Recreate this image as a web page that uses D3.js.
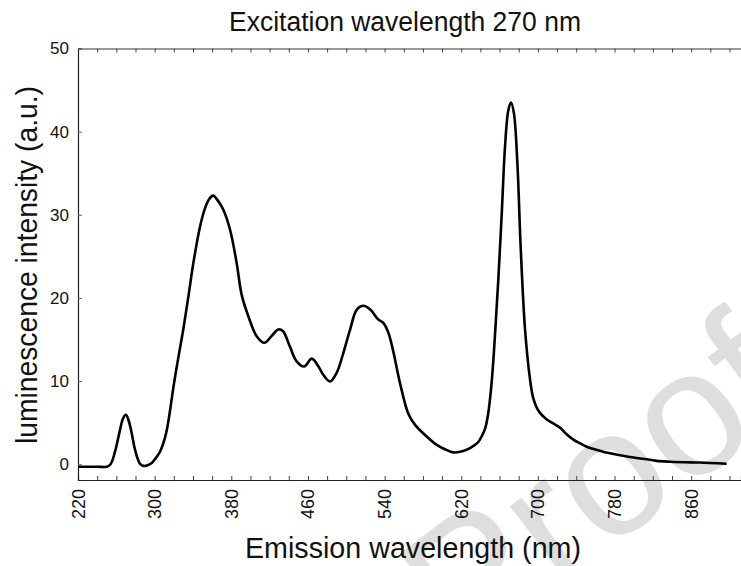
<!DOCTYPE html>
<html>
<head>
<meta charset="utf-8">
<script src="https://cdn.jsdelivr.net/npm/d3@7"></script>
<style>
  html, body { margin: 0; padding: 0; background: #fff; }
  svg { display: block; }
</style>
</head>
<body>
<div id="chart"></div>
<script>
// ---- data ----
const title = "Excitation wavelength 270 nm";
const xTitle = "Emission wavelength (nm)";
const yTitle = "luminescence intensity (a.u.)";
const xTickLabels = [220, 300, 380, 460, 540, 620, 700, 780, 860];
const yTickLabels = [0, 10, 20, 30, 40, 50];
const wavelengths = [
  220, 240, 250, 254, 258.6, 263.8, 267, 270, 273, 276, 279, 282, 285, 288, 292, 297, 301, 305.6, 309, 312.5,
  316, 319.5, 325, 330, 335, 340.4, 347.4, 352.6, 357, 361, 366, 371.7, 378.7, 385.6, 390.8, 397.8, 406.5, 414.5,
  422, 429, 434, 441, 448, 456, 464, 471, 476, 483, 490, 497, 504, 511, 518, 525, 533.5, 538.7, 544, 549, 556,
  565, 572, 580, 594, 603, 612, 625.6, 634, 638, 642, 645, 648, 650, 652, 654, 656, 658.7, 662.3, 665.7, 669.2,
  672, 675, 678.6, 682, 686.6, 691.8, 695, 698.8, 702, 709, 716, 723, 730, 737, 744, 751, 768, 771.5, 796, 817, 824,
  838, 859, 869, 897
];
const intensity = [
  -0.3, -0.3, -0.3, 0.0, 1.5, 4.1, 5.5, 5.95, 5.2, 3.75, 2.0, 0.74, 0.0, -0.2, -0.15, 0.15, 0.7, 1.5, 2.5, 4.0,
  6.4, 9.2, 13.0, 16.3, 20.0, 24.2, 28.6, 30.8, 31.9, 32.3, 31.7, 30.6, 28.2, 24.2, 20.4, 17.8, 15.4, 14.6,
  15.4, 16.2, 16.0, 14.2, 12.4, 11.75, 12.7, 11.75, 10.75, 9.95, 11.0, 13.4, 16.2, 18.6, 19.05, 18.6, 17.4, 17.0, 15.8, 13.6, 9.8,
  6.0, 4.7, 3.75, 2.35, 1.8, 1.42, 1.74, 2.3, 2.7, 3.5, 4.3, 6.0, 7.8, 10.2, 13.3, 17.0, 22.2, 30.2, 38.2, 42.6,
  43.5, 42.2, 36.2, 26.2, 16.2, 10.2, 8.0, 6.8, 6.2, 5.4, 4.9, 4.4, 3.6, 2.95, 2.5, 2.1, 1.5, 1.4, 0.86, 0.54, 0.4,
  0.3, 0.22, 0.2, 0.06
];
const watermark = "Proof";

// ---- layout ----
const W = 741, H = 566;
const margin = { left: 78, right: 0, top: 48.5, bottom: 86 };
const svg = d3.select("#chart").append("svg").attr("width", W).attr("height", H);

const x = d3.scaleLinear().domain([220, 912]).range([margin.left, W - margin.right]);
const y = d3.scaleLinear().domain([-1.9, 50]).range([H - margin.bottom, margin.top]);

const regular = "'Liberation Sans', Arial, sans-serif";

// watermark (behind everything)
svg.append("text")
  .attr("transform", "translate(462,660) rotate(-37)")
  .attr("font-family", regular)
  .attr("font-size", 178)
  .attr("fill", "#dedede")
  .text(watermark);

// axes
const x0 = x.range()[0];
const yb = y(-1.9), yt = y(50);
const xMinor = d3.range(220, 912, 20);

const gx = svg.append("g").attr("transform", `translate(0,${yb})`)
  .call(d3.axisBottom(x).tickValues(xMinor).tickSize(-4).tickFormat(""));
gx.select(".domain").attr("stroke", "#222").attr("stroke-width", 1.2);
gx.selectAll(".tick line").attr("stroke", "#444");

const gxt = svg.append("g").attr("transform", `translate(0,${yt})`)
  .call(d3.axisTop(x).tickValues(xMinor).tickSize(-4).tickFormat(""));
gxt.select(".domain").attr("stroke", "#333").attr("stroke-width", 1);
gxt.selectAll(".tick line").attr("stroke", "#444");

// x tick labels (rotated)
svg.append("g").selectAll("text").data(xTickLabels).join("text")
  .attr("transform", d => `translate(${x(d) + 6.5},${yb + 9}) rotate(-90)`)
  .attr("text-anchor", "end")
  .attr("font-family", regular)
  .attr("font-size", 18)
  .attr("fill", "#111")
  .text(d => d);

const gy = svg.append("g").attr("transform", `translate(${x0},0)`)
  .call(d3.axisLeft(y).tickValues(yTickLabels).tickSize(-4).tickPadding(9).tickFormat(d3.format("d")));
gy.select(".domain").attr("stroke", "#222").attr("stroke-width", 1.2);
gy.selectAll(".tick line").attr("stroke", "#666");
gy.selectAll(".tick text").attr("font-family", regular).attr("font-size", 17).attr("fill", "#111");

// line
const line = d3.line()
  .x((d, i) => x(wavelengths[i]))
  .y((d, i) => y(intensity[i]))
  .curve(d3.curveCatmullRom.alpha(0.5));
svg.append("path")
  .datum(intensity)
  .attr("d", line)
  .attr("fill", "none")
  .attr("stroke", "#000")
  .attr("stroke-width", 2.6)
  .attr("stroke-linejoin", "round");

// titles
svg.append("text")
  .attr("x", 405).attr("y", 31)
  .attr("text-anchor", "middle")
  .attr("font-family", regular).attr("font-size", 27).attr("fill", "#111")
  .attr("textLength", 352).attr("lengthAdjust", "spacingAndGlyphs")
  .text(title);

svg.append("text")
  .attr("x", 413).attr("y", 558)
  .attr("text-anchor", "middle")
  .attr("font-family", regular).attr("font-size", 29).attr("fill", "#111")
  .attr("textLength", 336).attr("lengthAdjust", "spacingAndGlyphs")
  .text(xTitle);

svg.append("text")
  .attr("transform", "translate(37,265) rotate(-90)")
  .attr("text-anchor", "middle")
  .attr("font-family", regular).attr("font-size", 29).attr("fill", "#111")
  .attr("textLength", 358).attr("lengthAdjust", "spacingAndGlyphs")
  .text(yTitle);
</script>
</body>
</html>
